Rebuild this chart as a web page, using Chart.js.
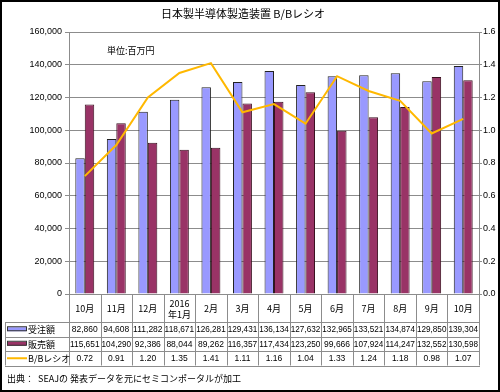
<!DOCTYPE html>
<html>
<head>
<meta charset="utf-8">
<script src="https://cdn.jsdelivr.net/npm/chart.js@4.4.0/dist/chart.umd.min.js"></script>
<style>
  html, body { margin: 0; padding: 0; background: #fff; }
  #wrap { width: 500px; height: 392px; }
</style>
</head>
<body>
<div id="wrap"><canvas id="bbChart" width="500" height="392"></canvas></div>
<script>
// months (header row of the table)
const months = ['10月', '11月', '12月', '2016\n年1月', '2月', '3月', '4月', '5月', '6月', '7月', '8月', '9月', '10月'];
const orders = [82860, 94608, 111282, 118671, 126281, 129431, 136134, 127632, 132965, 133521, 134874, 129850, 139304];
const sales = [115651, 104290, 92386, 88044, 89262, 116357, 117434, 123250, 99666, 107924, 114247, 132552, 130598];
const bbRatio = [0.72, 0.91, 1.20, 1.35, 1.41, 1.11, 1.16, 1.04, 1.33, 1.24, 1.18, 0.98, 1.07];
const seriesNames = ['受注額', '販売額', 'B/Bレシオ'];

const BLUE = '#9999ff';
const MAROON = '#993366';
const GOLD = '#ffb800';
const GRID = '#8c8c8c';
const jpFont = '"Noto Sans CJK JP", sans-serif';
const numFont = '"Liberation Sans", Arial, sans-serif';

function fmt(n) {
    return n.toLocaleString('en-US');
}

// Draws title, unit note, the data table under the plot and the frame
const tablePlugin = {
    id: 'dataTable',
    afterDraw(chart) {
        const ctx = chart.ctx;
        const x = chart.scales.x;
        const area = chart.chartArea;
        const n = months.length;
        const colW = (area.right - area.left) / n;
        const tblLeft = 5;
        const rowTop = [area.bottom, 322, 336.5, 351, 365.5];

        ctx.save();
        ctx.fillStyle = '#000';
        ctx.textAlign = 'center';
        ctx.textBaseline = 'middle';

        // title
        ctx.font = '11px ' + jpFont;
        ctx.fillText('日本製半導体製造装置 B/Bレシオ', 243, 14);
        ctx.font = '9px ' + jpFont;
        ctx.textAlign = 'left';
        ctx.fillText('単位:百万円', 107, 51);

        // table lines
        ctx.strokeStyle = GRID;
        ctx.lineWidth = 1;
        ctx.beginPath();
        for (let i = 0; i <= n; i++) {
            const lx = Math.round(area.left + i * colW) + 0.5;
            ctx.moveTo(lx, rowTop[0]);
            ctx.lineTo(lx, rowTop[4]);
        }
        ctx.moveTo(tblLeft + 0.5, rowTop[1]);
        ctx.lineTo(tblLeft + 0.5, rowTop[4]);
        for (let r = 1; r < rowTop.length; r++) {
            const ly = Math.round(rowTop[r]) + 0.5;
            ctx.moveTo(tblLeft, ly);
            ctx.lineTo(area.right + 1, ly);
        }
        ctx.stroke();

        // header row
        ctx.textAlign = 'center';
        ctx.font = '9px ' + jpFont;
        months.forEach((m, i) => {
            const cx = x.getPixelForValue(i);
            const lines = m.split('\n');
            const midY = (rowTop[0] + rowTop[1]) / 2 + 1;
            lines.forEach((t, k) => {
                ctx.fillText(t, cx, midY + (k - (lines.length - 1) / 2) * 11);
            });
        });

        // value rows
        const rows = [
            orders.map(fmt),
            sales.map(fmt),
            bbRatio.map(v => v.toFixed(2))
        ];
        ctx.font = '8.5px ' + numFont;
        rows.forEach((vals, r) => {
            const cy = (rowTop[r + 1] + rowTop[r + 2]) / 2 + 0.5;
            vals.forEach((v, i) => {
                ctx.fillText(v, x.getPixelForValue(i), cy, colW - 2);
            });
        });

        // legend keys in the first column
        const keyColors = [BLUE, MAROON];
        ctx.textAlign = 'left';
        ctx.font = '9px ' + jpFont;
        seriesNames.forEach((name, r) => {
            const cy = (rowTop[r + 1] + rowTop[r + 2]) / 2;
            if (r < 2) {
                ctx.fillStyle = keyColors[r];
                ctx.fillRect(7, cy - 2, 19, 4);
                ctx.strokeStyle = '#333';
                ctx.strokeRect(7.5, cy - 2.5, 19, 4);
            } else {
                ctx.strokeStyle = GOLD;
                ctx.lineWidth = 2;
                ctx.beginPath();
                ctx.moveTo(7, cy);
                ctx.lineTo(27, cy);
                ctx.stroke();
                ctx.lineWidth = 1;
            }
            ctx.fillStyle = '#000';
            ctx.fillText(name, 28, cy + 0.5);
        });

        // source
        ctx.font = '9px ' + jpFont;
        ctx.fillText('出典：  SEAJの 発表データを元にセミコンポータルが加工', 7, 379);

        // outer frame
        ctx.strokeStyle = '#000';
        ctx.lineWidth = 2;
        ctx.strokeRect(1, 1, 498, 390);
        ctx.restore();
    }
};

const ctx = document.getElementById('bbChart').getContext('2d');
new Chart(ctx, {
    data: {
        labels: months,
        datasets: [
            {
                type: 'line',
                label: seriesNames[2],
                data: bbRatio,
                yAxisID: 'y1',
                borderColor: GOLD,
                borderWidth: 2,
                pointRadius: 0,
                tension: 0,
                order: 0
            },
            {
                type: 'bar',
                label: seriesNames[0],
                data: orders,
                backgroundColor: BLUE,
                borderColor: '#222',
                borderWidth: 1,
                categoryPercentage: 0.6,
                barPercentage: 1,
                order: 1
            },
            {
                type: 'bar',
                label: seriesNames[1],
                data: sales,
                backgroundColor: MAROON,
                borderColor: '#3a1020',
                borderWidth: 1,
                categoryPercentage: 0.6,
                barPercentage: 1,
                order: 1
            }
        ]
    },
    options: {
        responsive: false,
        animation: false,
        layout: { padding: { left: 0, right: 0, top: 32, bottom: 98 } },
        plugins: {
            legend: { display: false },
            tooltip: { enabled: false }
        },
        scales: {
            x: {
                display: false,
                offset: true
            },
            y: {
                position: 'left',
                min: 0,
                max: 160000,
                afterFit: s => { s.width = 69; },
                ticks: {
                    stepSize: 20000,
                    padding: 3,
                    color: '#000',
                    font: { family: numFont, size: 9 },
                    callback: v => fmt(v)
                },
                grid: { color: GRID, tickLength: 4 },
                border: { color: GRID }
            },
            y1: {
                position: 'right',
                min: 0,
                max: 1.6,
                afterFit: s => { s.width = 21; },
                ticks: {
                    stepSize: 0.2,
                    padding: 1,
                    color: '#000',
                    font: { family: numFont, size: 9 },
                    callback: v => v.toFixed(1)
                },
                grid: { drawOnChartArea: false, color: GRID, tickLength: 3 },
                border: { color: GRID }
            }
        }
    },
    plugins: [tablePlugin]
});
</script>
</body>
</html>
